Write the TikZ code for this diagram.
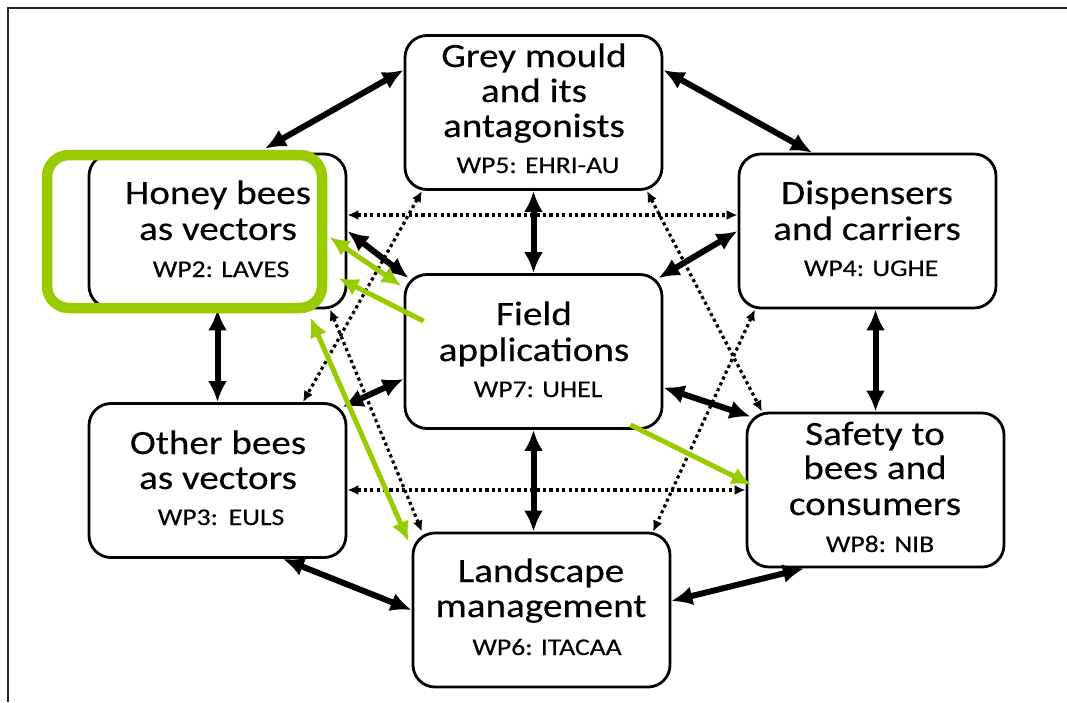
\documentclass[tikz,border=0pt]{standalone}
\usepackage{fontspec}
\setmainfont{Carlito}[FakeStretch=1.15,FakeBold=0.3]
\usetikzlibrary{arrows.meta}
\definecolor{hlgreen}{RGB}{153,204,0}
\definecolor{framegray}{RGB}{40,40,40}
\tikzset{
  wpbox/.style={draw, line width=2.8pt, rounded corners=22pt, minimum width=257pt, minimum height=154pt, fill=white, inner sep=0pt},
  bigtxt/.style={font=\fontsize{34}{36}\selectfont, anchor=base, inner sep=0pt},
  smalltxt/.style={font=\fontsize{24}{28}\selectfont, anchor=base, inner sep=0pt},
  link/.style={line width=6pt, {Latex[length=21pt,width=19pt]}-{Latex[length=21pt,width=19pt]}},
  dotlink/.style={line width=3.2pt, dash pattern=on 3.2pt off 3.2pt, {Latex[length=11pt,width=10pt]}-{Latex[length=11pt,width=10pt]}},
  hlbox/.style={draw=hlgreen, line width=10.5pt, rounded corners=22pt, minimum width=275pt, minimum height=153pt, inner sep=0pt},
  glink/.style={draw=hlgreen, line width=5pt, -{Latex[length=20pt,width=18pt]}},
  gdlink/.style={draw=hlgreen, line width=5pt, {Latex[length=20pt,width=18pt]}-{Latex[length=20pt,width=18pt]}},
  frameline/.style={draw=framegray, line width=2.2pt}
}
\begin{document}
\begin{tikzpicture}[x=1pt,y=-1pt]
\useasboundingbox (0,0) rectangle (1067,702);
\fill[white] (0,0) rectangle (1067,702);
\draw[frameline] (8,702) -- (8,8) -- (1067,8);

% boxes
\node[wpbox] (gm) at (533.5,112.5) {};
\node[wpbox] (dc) at (867.5,231) {};
\node[wpbox] (hb) at (217.5,231) {};
\node[wpbox] (fa) at (533.5,351.5) {};
\node[wpbox] (ob) at (217.5,480.5) {};
\node[wpbox] (sb) at (875.5,490) {};
\node[wpbox] (lm) at (541.5,610) {};

% texts
\node[bigtxt] (gm1) at (534,67) {Grey mould};
\node[bigtxt] (gm2) at (534,102) {and its};
\node[bigtxt] (gm3) at (534,137) {antagonists};
\node[smalltxt] (gm4) at (538,173) {WP5: EHRI-AU};

\node[bigtxt] (hb1) at (218,204) {Honey bees};
\node[bigtxt] (hb2) at (218,240) {as vectors};
\node[smalltxt] (hb3) at (221,277) {WP2: LAVES};

\node[bigtxt] (dc1) at (867,204) {Dispensers};
\node[bigtxt] (dc2) at (867,240) {and carriers};
\node[smalltxt] (dc3) at (871,276) {WP4: UGHE};

\node[bigtxt] (fa1) at (534,325) {Field};
\node[bigtxt] (fa2) at (534,361) {applications};
\node[smalltxt] (fa3) at (538,397) {WP7: UHEL};

\node[bigtxt] (ob1) at (218,454) {Other bees};
\node[bigtxt] (ob2) at (218,489) {as vectors};
\node[smalltxt] (ob3) at (221,525) {WP3:\hspace{0.45em}EULS};

\node[bigtxt] (sb1) at (875,445) {Safety to};
\node[bigtxt] (sb2) at (875,479) {bees and};
\node[bigtxt] (sb3) at (875,515) {consumers};
\node[smalltxt] (sb4) at (880,552) {WP8: NIB};

\node[bigtxt] (lm1) at (541,582) {Landscape};
\node[bigtxt] (lm2) at (541,617) {management};
\node[smalltxt] (lm3) at (547,655) {WP6: ITACAA};

% thick links
\draw[link] ([xshift=47.5pt,yshift=4pt]hb.north) -- ([yshift=42.5pt]gm.west);
\draw[link] ([yshift=42.5pt]gm.east) -- ([xshift=-55.5pt]dc.north);
\draw[link] (gm.south) -- (fa.north);
\draw[link] (hb.east) -- ([xshift=5pt,yshift=-5pt]fa.north west);
\draw[link] (dc.west) -- ([xshift=-5pt,yshift=-5pt]fa.north east);
\draw[link] (hb.south) -- (ob.north);
\draw[link] (fa.south) -- (fa.south |- lm.north);
\draw[link] ([yshift=-27.5pt]fa.west) -- ([xshift=-5pt,yshift=-5pt]ob.north east);
\draw[link] ([yshift=-36pt]fa.east) -- ([xshift=5pt,yshift=-5pt]sb.north west);
\draw[link] (dc.south -| sb.north) -- (sb.north);
\draw[link] ([xshift=65.5pt]ob.south) -- (lm.west);
\draw[link] ([yshift=9pt]lm.east) -- ([xshift=-71.5pt]sb.south);

% dotted links
\draw[dotlink] ([yshift=16pt]hb.east) -- ([yshift=16pt]dc.west);
\draw[dotlink] ([yshift=-9.5pt]ob.east) -- (sb.west);
\draw[dotlink] ([xshift=-111.5pt]gm.south) -- ([xshift=85.5pt]ob.north);
\draw[dotlink] ([xshift=112.5pt]hb.south) -- ([xshift=-119.5pt]lm.north);
\draw[dotlink] ([xshift=113.5pt]gm.south) -- ([xshift=-113.5pt]sb.north);
\draw[dotlink] ([xshift=-112.5pt]dc.south) -- ([xshift=111.5pt]lm.north);

% highlight
\node[hlbox] (hl) at (184.5,231.5) {};
\draw[gdlink] ([xshift=2pt,yshift=-5.5pt]hl.east) -- ([xshift=-2pt,yshift=-13pt]fa.north west);
\draw[glink] ([xshift=20pt,yshift=-48pt]fa.north west) -- ([xshift=-9pt,yshift=-47pt]hb.east);
\draw[gdlink] ([xshift=-17pt,yshift=-4pt]hl.south east) -- ([xshift=-3pt,yshift=-10pt]lm.north west);
\draw[glink] ([xshift=-33pt,yshift=5pt]fa.south east) -- ([xshift=6pt,yshift=5pt]sb.west);
\end{tikzpicture}
\end{document}
